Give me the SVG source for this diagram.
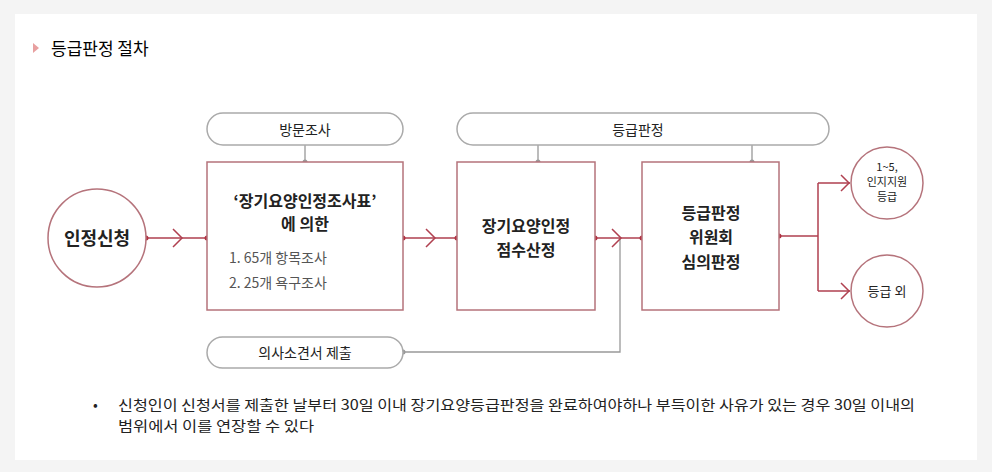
<svg xmlns="http://www.w3.org/2000/svg" width="992" height="472" viewBox="0 0 992 472">
<style>
text{font-family:"Noto Sans CJK KR","Liberation Sans",sans-serif;fill:#222;text-anchor:middle}
.b{font-weight:bold}
.box{fill:#fff;stroke:#b5737b;stroke-width:1.5}
.pill{fill:#fff;stroke:#aaa;stroke-width:1.5}
.ln{fill:none;stroke:#b04050;stroke-width:1.5}
.gl{fill:none;stroke:#999;stroke-width:1.3}
.dot{fill:#b03040}
.gd{fill:#999}
</style>
<rect x="0" y="0" width="992" height="472" fill="#f4f4f4"/>
<rect x="15" y="14" width="962" height="446" fill="#fff"/>
<polygon points="33,43 39,48 33,53" fill="#e8a0a0"/>
<text x="51" y="55" style="text-anchor:start;font-size:17px;fill:#000">등급판정 절차</text>
<g id="connectors">
<path class="gl" d="M305 145V162M538 145V162M752 145V162"/>
<path class="gl" d="M403 352H620V238"/>
<path class="ln" d="M146 238H207M403 238H457M595 238H642M779 236H818M818 183V291M818 183H850M818 291H850"/>
<path class="ln" d="M173 229l9 9l-9 9M426 229l9 9l-9 9M612 229l9 9l-9 9M841 175l8 8l-8 8M841 283l8 8l-8 8"/>
<g class="gd"><circle cx="305" cy="162" r="2.5"/><circle cx="538" cy="162" r="2.5"/><circle cx="752" cy="162" r="2.5"/><circle cx="403" cy="352" r="2.5"/></g>
<g class="dot"><circle cx="146" cy="238" r="2.5"/><circle cx="207" cy="238" r="2.5"/><circle cx="403" cy="238" r="2.5"/><circle cx="457" cy="238" r="2.5"/><circle cx="595" cy="238" r="2.5"/><circle cx="642" cy="238" r="2.5"/><circle cx="779" cy="236" r="2.5"/></g>
</g>
<g id="n1"><circle class="box" cx="97" cy="238" r="49"/><text x="97" y="245" class="b" font-size="18">인정신청</text></g>
<g id="p1"><rect class="pill" x="207" y="113" width="196" height="32" rx="16"/><text x="305" y="135" font-size="14">방문조사</text></g>
<g id="p2"><rect class="pill" x="457" y="113" width="372" height="32" rx="16"/><text x="638" y="135" font-size="14">등급판정</text></g>
<g id="p3"><rect class="pill" x="207" y="337" width="196" height="31" rx="15.5"/><text x="305" y="358" font-size="14">의사소견서 제출</text></g>
<g id="b1"><rect class="box" x="207" y="162" width="196" height="148"/>
<text x="305" y="207" class="b" font-size="16">‘장기요양인정조사표’</text>
<text x="305" y="230" class="b" font-size="16">에 의한</text>
<text x="229" y="263" font-size="14" style="text-anchor:start;fill:#555">1. 65개 항목조사</text>
<text x="229" y="288" font-size="14" style="text-anchor:start;fill:#555">2. 25개 욕구조사</text></g>
<g id="b2"><rect class="box" x="457" y="162" width="138" height="148"/>
<text x="526" y="232" class="b" font-size="16">장기요양인정</text>
<text x="526" y="256" class="b" font-size="16">점수산정</text></g>
<g id="b3"><rect class="box" x="642" y="162" width="137" height="148"/>
<text x="711" y="219" class="b" font-size="16">등급판정</text>
<text x="711" y="243" class="b" font-size="16">위원회</text>
<text x="711" y="268" class="b" font-size="16">심의판정</text></g>
<g id="c1"><circle class="box" cx="887" cy="183" r="36"/>
<text x="887" y="171" font-size="11">1~5,</text><text x="887" y="186" font-size="11">인지지원</text><text x="887" y="201" font-size="11">등급</text></g>
<g id="c2"><circle class="box" cx="887" cy="291" r="36"/><text x="887" y="296" font-size="13">등급 외</text></g>
<text x="93" y="410" font-size="14" style="text-anchor:start">•</text>
<text x="118" y="410" font-size="14" style="text-anchor:start" textLength="797" lengthAdjust="spacingAndGlyphs">신청인이 신청서를 제출한 날부터 30일 이내 장기요양등급판정을 완료하여야하나 부득이한 사유가 있는 경우 30일 이내의</text>
<text x="118" y="431" font-size="14" style="text-anchor:start" textLength="196" lengthAdjust="spacingAndGlyphs">범위에서 이를 연장할 수 있다</text>
</svg>
